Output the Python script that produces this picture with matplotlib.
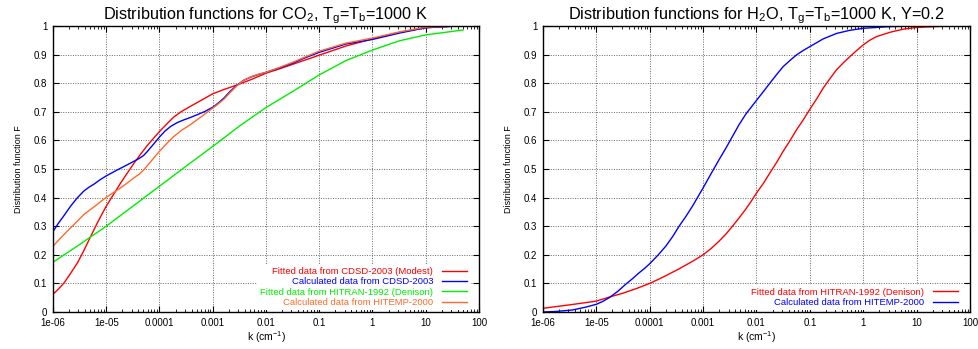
import numpy as np
import matplotlib
matplotlib.use("Agg")
from matplotlib import pyplot as plt
from matplotlib.ticker import LogLocator, FixedLocator

plt.rcParams['font.family'] = ['Liberation Sans', 'DejaVu Sans']
plt.rcParams['mathtext.fontset'] = 'custom'
plt.rcParams['mathtext.rm'] = 'Liberation Sans'
plt.rcParams['mathtext.it'] = 'Liberation Sans'

# CO2 curves: log10(k) and F
co2_fit_lk = [-6, -5.9, -5.79, -5.67, -5.54, -5.42, -5.29, -5.15, -5, -4.86, -4.73, -4.6, -4.48,
              -4.35, -4.23, -4.1, -4, -3.86, -3.73, -3.58, -3.42, -3.2, -3, -2.79, -2.54,
              -2.25, -2, -1.75, -1.5, -1.25, -1, -0.5, 0, 0.5, 1, 1.5, 2]
co2_fit_F = [0.062, 0.08, 0.102, 0.135, 0.172, 0.215, 0.265, 0.318, 0.37, 0.412, 0.451, 0.487, 0.52,
             0.553, 0.582, 0.61, 0.631, 0.658, 0.682, 0.702, 0.719, 0.742, 0.763, 0.778, 0.794,
             0.815, 0.835, 0.85, 0.866, 0.882, 0.898, 0.93, 0.955, 0.978, 0.994, 0.999, 1.0]

co2_calc_lk = [-6, -5.9, -5.79, -5.67, -5.54, -5.42, -5.32, -5.23, -5.12, -5, -4.8, -4.54,
               -4.39, -4.3, -4.23, -4.12, -4, -3.9, -3.79, -3.67, -3.54, -3.42, -3.29, -3.15,
               -3, -2.9, -2.79, -2.67, -2.54, -2.42, -2.29, -2.15, -2, -1.75, -1.5, -1.25, -1,
               -0.5, 0, 0.5, 1, 1.5, 2]
co2_calc_F = [0.281, 0.31, 0.338, 0.37, 0.40, 0.423, 0.437, 0.447, 0.462, 0.476, 0.496, 0.521,
              0.536, 0.547, 0.561, 0.585, 0.612, 0.632, 0.649, 0.662, 0.672, 0.68, 0.69, 0.701,
              0.716, 0.73, 0.748, 0.772, 0.794, 0.81, 0.821, 0.83, 0.838, 0.853, 0.87, 0.89, 0.908,
              0.937, 0.953, 0.975, 0.994, 0.999, 1.0]

co2_hitran_lk = [-6, -5.5, -5, -4.5, -4, -3.5, -3, -2.5, -2, -1.5, -1, -0.5, 0, 0.5, 1, 1.7]
co2_hitran_F = [0.174, 0.236, 0.30, 0.37, 0.44, 0.51, 0.579, 0.65, 0.715, 0.771, 0.829, 0.879,
                0.916, 0.948, 0.969, 0.986]

co2_hitemp_lk = [-6, -5.85, -5.67, -5.54, -5.42, -5.2, -5, -4.86, -4.73, -4.6, -4.48, -4.38,
                 -4.29, -4.2, -4.1, -4, -3.86, -3.73, -3.58, -3.42, -3.2, -3, -2.9, -2.79,
                 -2.67, -2.54, -2.42, -2.29, -2.15, -2, -1.75, -1.5, -1.25, -1, -0.5, 0, 0.5,
                 1, 1.5, 2]
co2_hitemp_F = [0.23, 0.26, 0.294, 0.318, 0.341, 0.372, 0.401, 0.418, 0.434, 0.452, 0.469, 0.482,
                0.498, 0.518, 0.54, 0.562, 0.59, 0.614, 0.636, 0.655, 0.685, 0.713, 0.727, 0.744,
                0.768, 0.792, 0.81, 0.822, 0.831, 0.838, 0.855, 0.873, 0.893, 0.912, 0.94, 0.958,
                0.979, 0.996, 0.999, 1.0]

# H2O curves
h2o_fit_lk = [-6, -5.5, -5, -4.76, -4.5, -4.25, -4, -3.75, -3.45, -3.2, -3, -2.85, -2.7, -2.57,
              -2.45, -2.33, -2.2, -2.1, -2, -1.87, -1.75, -1.62, -1.5, -1.37, -1.25, -1.12, -1,
              -0.87, -0.75, -0.62, -0.5, -0.37, -0.25, -0.12, 0, 0.12, 0.25, 0.5, 0.75, 1,
              1.5, 2]
h2o_fit_F = [0.013, 0.025, 0.038, 0.052, 0.066, 0.082, 0.10, 0.122, 0.151, 0.177, 0.20, 0.222,
             0.248, 0.273, 0.30, 0.328, 0.36, 0.387, 0.416, 0.45, 0.486, 0.524, 0.562, 0.6,
             0.637, 0.673, 0.709, 0.746, 0.783, 0.817, 0.847, 0.872, 0.893, 0.915, 0.934, 0.95,
             0.963, 0.978, 0.989, 0.995, 0.999, 1.0]

h2o_calc_lk = [-6, -5.75, -5.45, -5.2, -5, -4.88, -4.76, -4.6, -4.45, -4.32, -4.2, -4.1, -4,
               -3.85, -3.7, -3.57, -3.45, -3.32, -3.2, -3.1, -3, -2.85, -2.7, -2.57, -2.45,
               -2.33, -2.2, -2.1, -2, -1.87, -1.75, -1.62, -1.5, -1.37, -1.25, -1.12, -1,
               -0.75, -0.5, -0.25, 0, 0.5, 1, 2]
h2o_calc_F = [0.0, 0.002, 0.007, 0.017, 0.027, 0.037, 0.05, 0.072, 0.097, 0.117, 0.137, 0.152,
              0.169, 0.198, 0.23, 0.264, 0.30, 0.335, 0.37, 0.402, 0.434, 0.484, 0.533, 0.574,
              0.614, 0.654, 0.692, 0.716, 0.740, 0.771, 0.80, 0.831, 0.858, 0.88, 0.899, 0.915,
              0.928, 0.955, 0.974, 0.985, 0.992, 0.998, 1.0, 1.0]

fig = plt.figure(figsize=(9.79, 3.49), dpi=100)
ax1 = fig.add_axes([53 / 979, 1 - 312 / 349, 426 / 979, 286 / 349])
ax2 = fig.add_axes([543 / 979, 1 - 312 / 349, 427 / 979, 286 / 349])


def style_axes(ax, title):
    ax.set_xscale('log')
    ax.set_xlim(1e-6, 100)
    ax.set_ylim(0, 1)
    ax.xaxis.set_minor_locator(LogLocator(base=10, subs=np.arange(2, 10), numticks=20))
    ax.set_xticks([1e-6, 1e-5, 1e-4, 1e-3, 1e-2, 1e-1, 1, 10, 100])
    ax.set_xticklabels(['1e-06', '1e-05', '0.0001', '0.001', '0.01', '0.1', '1', '10', '100'])
    ax.yaxis.set_major_locator(FixedLocator(np.arange(0, 1.01, 0.1)))
    ax.set_yticklabels(['0', '0.1', '0.2', '0.3', '0.4', '0.5', '0.6', '0.7', '0.8', '0.9', '1'])
    ax.tick_params(which='both', direction='in', top=True, right=True, labelsize=7, pad=4)
    ax.tick_params(which='major', length=4, width=0.8)
    ax.tick_params(which='minor', length=2, width=0.6)
    ax.grid(True, which='major', linestyle=(0, (1, 1.5)), color='0.4', linewidth=0.7)
    for s in ax.spines.values():
        s.set_linewidth(1.0)
    ax.set_title(title, fontsize=11.7, pad=3)
    ax.set_xlabel(r'k (cm$^{-1}$)', fontsize=7.5, labelpad=1)
    ax.set_ylabel('Distribution function F', fontsize=6.5, labelpad=8)


style_axes(ax1, r'Distribution functions for CO$_2$, T$_g$=T$_b$=1000 K')
style_axes(ax2, r'Distribution functions for H$_2$O, T$_g$=T$_b$=1000 K, Y=0.2')

ax1.plot(10 ** np.array(co2_fit_lk), co2_fit_F, color='#ff0000', lw=1.0,
         label='Fitted data from CDSD-2003 (Modest)')
ax1.plot(10 ** np.array(co2_calc_lk), co2_calc_F, color='#0000ff', lw=1.0,
         label='Calculated data from CDSD-2003')
ax1.plot(10 ** np.array(co2_hitran_lk), co2_hitran_F, color='#00ee00', lw=1.0,
         label='Fitted data from HITRAN-1992 (Denison)')
ax1.plot(10 ** np.array(co2_hitemp_lk), co2_hitemp_F, color='#ff6a2a', lw=1.0,
         label='Calculated data from HITEMP-2000')

ax2.plot(10 ** np.array(h2o_fit_lk), h2o_fit_F, color='#ff0000', lw=1.0,
         label='Fitted data from HITRAN-1992 (Denison)')
ax2.plot(10 ** np.array(h2o_calc_lk), h2o_calc_F, color='#0000ff', lw=1.0,
         label='Calculated data from HITEMP-2000')

for ax in (ax1, ax2):
    leg = ax.legend(loc='lower right', bbox_to_anchor=(1 - 9 / 426, 2 / 286),
                    fontsize=6.8, markerfirst=False, frameon=True,
                    framealpha=1, facecolor='white', edgecolor='none', fancybox=False,
                    handlelength=2.7, handletextpad=0.9, labelspacing=0.15,
                    borderpad=0.3, borderaxespad=0)
    for text, line in zip(leg.get_texts(), leg.get_lines()):
        text.set_color(line.get_color())
    leg.set_zorder(3)

plt.savefig('out.png', dpi=100)
